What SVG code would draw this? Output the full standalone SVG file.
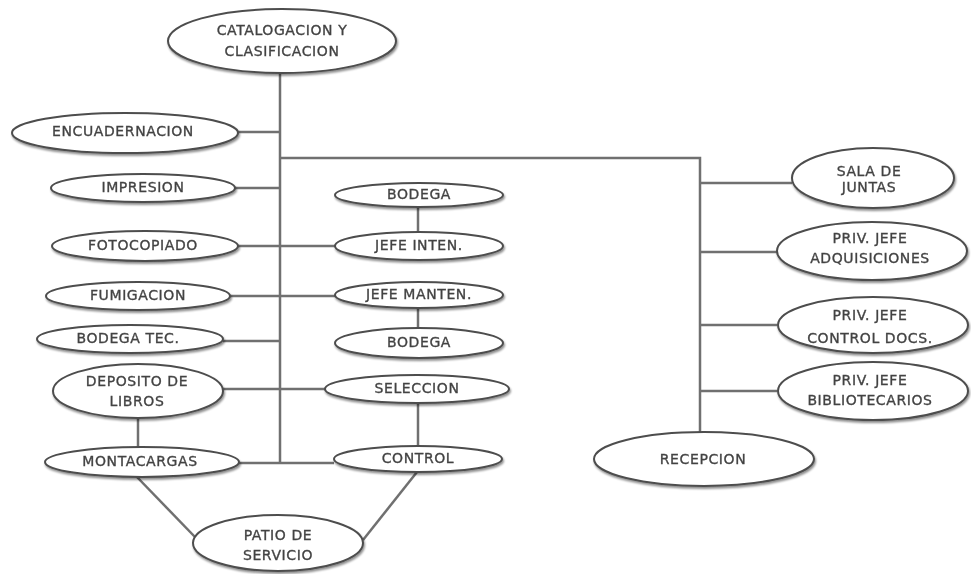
<svg xmlns="http://www.w3.org/2000/svg" width="971" height="574" viewBox="0 0 971 574">
<defs>
<filter id="sh" x="-10%" y="-30%" width="120%" height="160%">
<feGaussianBlur in="SourceAlpha" stdDeviation="0.8"/>
<feOffset dx="1" dy="1.5" result="b"/>
<feComponentTransfer><feFuncA type="linear" slope="0.45"/></feComponentTransfer>
<feMerge><feMergeNode/><feMergeNode in="SourceGraphic"/></feMerge>
</filter>
</defs>
<style>
.n ellipse{fill:#fff;stroke:#4d4d4d;stroke-width:2}
.n text{font-family:"DejaVu Sans","Liberation Sans",sans-serif;font-size:14px;letter-spacing:0.6px;fill:#424242;stroke:#4a4a4a;stroke-width:0.35;text-anchor:middle;dominant-baseline:central}
#conn line,#conn polyline{stroke:#707070;stroke-width:2.5;fill:none}
</style>
<rect width="971" height="574" fill="#fff"/>
<g id="conn">
<line x1="280" y1="73" x2="280" y2="463"/>
<polyline points="280,158 700,158 700,432"/>
<line x1="700" y1="183" x2="792" y2="183"/>
<line x1="700" y1="252" x2="777" y2="252"/>
<line x1="700" y1="325" x2="777" y2="325"/>
<line x1="700" y1="391" x2="777" y2="391"/>
<line x1="238" y1="132" x2="280" y2="132"/>
<line x1="235" y1="188" x2="280" y2="188"/>
<line x1="237" y1="246" x2="335" y2="246"/>
<line x1="230" y1="296" x2="335" y2="296"/>
<line x1="223" y1="341" x2="280" y2="341"/>
<line x1="223" y1="389" x2="325" y2="389"/>
<line x1="239" y1="463" x2="334" y2="463"/>
<line x1="418" y1="207" x2="418" y2="232"/>
<line x1="418" y1="308" x2="418" y2="330"/>
<line x1="418" y1="403" x2="418" y2="446"/>
<line x1="138" y1="418" x2="138" y2="448"/>
<line x1="136" y1="476" x2="195" y2="537"/>
<line x1="417" y1="472" x2="363" y2="540"/>
</g>
<g id="catalogacion" class="n" filter="url(#sh)"><ellipse cx="282" cy="41" rx="114" ry="32"/><text x="282" y="30">CATALOGACION Y</text><text x="282" y="51">CLASIFICACION</text></g>
<g id="encuadernacion" class="n" filter="url(#sh)"><ellipse cx="125" cy="133" rx="113" ry="20"/><text x="123" y="131">ENCUADERNACION</text></g>
<g id="impresion" class="n" filter="url(#sh)"><ellipse cx="143" cy="188" rx="92" ry="14"/><text x="143" y="187">IMPRESION</text></g>
<g id="fotocopiado" class="n" filter="url(#sh)"><ellipse cx="145" cy="246" rx="93" ry="15"/><text x="143" y="245">FOTOCOPIADO</text></g>
<g id="fumigacion" class="n" filter="url(#sh)"><ellipse cx="138" cy="296" rx="92" ry="14"/><text x="138" y="295">FUMIGACION</text></g>
<g id="bodega-tec" class="n" filter="url(#sh)"><ellipse cx="130" cy="339" rx="93" ry="14"/><text x="128" y="338">BODEGA TEC.</text></g>
<g id="deposito" class="n" filter="url(#sh)"><ellipse cx="138" cy="391" rx="85" ry="27"/><text x="137" y="381">DEPOSITO DE</text><text x="137" y="401">LIBROS</text></g>
<g id="montacargas" class="n" filter="url(#sh)"><ellipse cx="142" cy="462" rx="97" ry="15"/><text x="140" y="461">MONTACARGAS</text></g>
<g id="bodega1" class="n" filter="url(#sh)"><ellipse cx="419" cy="195" rx="84" ry="12"/><text x="419" y="194">BODEGA</text></g>
<g id="jefe-inten" class="n" filter="url(#sh)"><ellipse cx="419" cy="246" rx="84" ry="14"/><text x="419" y="245">JEFE INTEN.</text></g>
<g id="jefe-manten" class="n" filter="url(#sh)"><ellipse cx="419" cy="295" rx="84" ry="13"/><text x="419" y="294">JEFE MANTEN.</text></g>
<g id="bodega2" class="n" filter="url(#sh)"><ellipse cx="419" cy="343" rx="84" ry="15"/><text x="419" y="342">BODEGA</text></g>
<g id="seleccion" class="n" filter="url(#sh)"><ellipse cx="417" cy="389" rx="92" ry="14"/><text x="417" y="388">SELECCION</text></g>
<g id="control" class="n" filter="url(#sh)"><ellipse cx="418" cy="459" rx="84" ry="13"/><text x="418" y="458">CONTROL</text></g>
<g id="patio" class="n" filter="url(#sh)"><ellipse cx="278" cy="543" rx="85" ry="28"/><text x="278" y="535">PATIO DE</text><text x="278" y="555">SERVICIO</text></g>
<g id="sala" class="n" filter="url(#sh)"><ellipse cx="873" cy="178" rx="81" ry="30"/><text x="869" y="171">SALA DE</text><text x="869" y="187">JUNTAS</text></g>
<g id="adquisiciones" class="n" filter="url(#sh)"><ellipse cx="872" cy="251" rx="95" ry="29"/><text x="870" y="238">PRIV. JEFE</text><text x="870" y="258">ADQUISICIONES</text></g>
<g id="control-docs" class="n" filter="url(#sh)"><ellipse cx="873" cy="325" rx="95" ry="28"/><text x="870" y="315">PRIV. JEFE</text><text x="870" y="338">CONTROL DOCS.</text></g>
<g id="bibliotecarios" class="n" filter="url(#sh)"><ellipse cx="873" cy="391" rx="95" ry="29"/><text x="870" y="380">PRIV.  JEFE</text><text x="870" y="400">BIBLIOTECARIOS</text></g>
<g id="recepcion" class="n" filter="url(#sh)"><ellipse cx="704" cy="459" rx="110" ry="27"/><text x="703" y="459">RECEPCION</text></g>
</svg>
